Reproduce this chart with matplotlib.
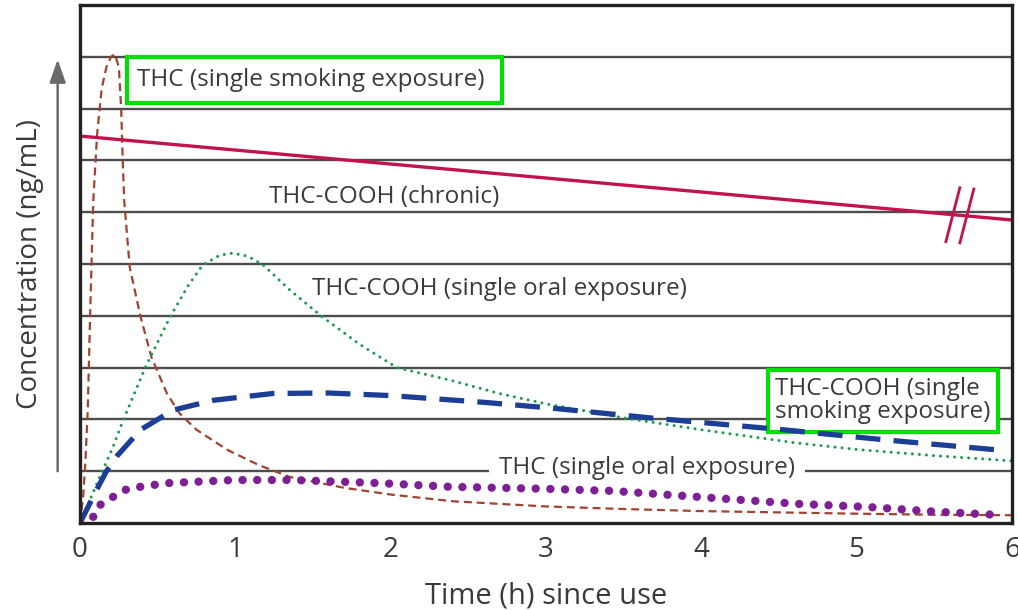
import matplotlib.pyplot as plt
import numpy as np

plt.rcParams['font.family'] = ['Open Sans', 'DejaVu Sans']

# THC (single smoking exposure)
smoke_thc_x = [0, 0.02, 0.035, 0.05, 0.065, 0.085, 0.11, 0.14, 0.17, 0.2, 0.225, 0.25,
               0.265, 0.275, 0.285, 0.32, 0.39, 0.46, 0.56, 0.64, 0.75, 0.95, 1.15, 1.35,
               1.7, 2.0, 2.4, 3.0, 3.5, 4.0, 4.6, 5.0, 5.5, 6.0]
smoke_thc_y = [0, 0.5, 1.2, 2.2, 4.0, 6.2, 7.5, 8.4, 8.8, 9.0, 9.05, 8.8,
               8.0, 7.0, 6.2, 4.94, 3.98, 3.2, 2.5, 2.12, 1.8, 1.41, 1.12, 0.89,
               0.68, 0.55, 0.42, 0.32, 0.27, 0.23, 0.2, 0.18, 0.16, 0.15]

# THC-COOH (single oral exposure)
oral_cooh_x = [0, 0.1, 0.21, 0.28, 0.42, 0.58, 0.7, 0.79, 0.9, 0.985, 1.08, 1.18, 1.35,
               1.56, 1.8, 2.04, 2.38, 2.7, 3.0, 3.5, 4.0, 4.6, 5.0, 5.5, 6.0]
oral_cooh_y = [0, 0.7, 1.45, 2.0, 3.0, 3.98, 4.6, 4.98, 5.17, 5.21, 5.15, 4.98, 4.5,
               3.98, 3.45, 3.0, 2.76, 2.5, 2.3, 2.03, 1.8, 1.55, 1.42, 1.3, 1.2]

# THC-COOH (single smoking exposure)
smoke_cooh_x = [0, 0.05, 0.1, 0.17, 0.24, 0.39, 0.6, 0.86, 1.24, 1.6, 2.0, 2.6, 3.03,
                3.67, 4.53, 5.2, 5.95]
smoke_cooh_y = [0, 0.3, 0.6, 1.0, 1.3, 1.8, 2.18, 2.37, 2.5, 2.51, 2.46, 2.33, 2.22,
                2.03, 1.8, 1.6, 1.4]

# THC (single oral exposure)
oral_thc_x = [0, 0.05, 0.1, 0.13, 0.21, 0.29, 0.39, 0.56, 0.99, 1.37, 1.93, 2.38, 3.0,
              3.43, 4.0, 4.62, 5.07, 5.5, 5.95]
oral_thc_y = [0, 0.05, 0.15, 0.35, 0.5, 0.64, 0.7, 0.77, 0.83, 0.83, 0.77, 0.7, 0.66,
              0.62, 0.5, 0.37, 0.31, 0.22, 0.15]

# THC-COOH (chronic)
chronic_x = [0, 6]
chronic_y = [7.47, 5.85]
break_x = [5.62, 5.71]

x_ticks = [0, 1, 2, 3, 4, 5, 6]
grid_levels = [1, 2, 3, 4, 5, 6, 7, 8, 9]

text_color = '#3a3a3a'

fig = plt.figure(figsize=(10.18, 6.10), dpi=100)
ax = fig.add_axes([0.0786, 0.1426, 0.9154, 0.8492])

for g in grid_levels:
    ax.axhline(g, color='#4d4d4d', lw=1.7, zorder=1)

ax.plot(smoke_thc_x, smoke_thc_y, color='#a0432f', lw=1.6,
        linestyle=(0, (3.6, 2.2)), zorder=3)
ax.plot(oral_cooh_x, oral_cooh_y, color='#1f9a50', lw=2.2,
        linestyle=(0, (0.01, 2.3)), dash_capstyle='round', zorder=3)
ax.plot(smoke_cooh_x, smoke_cooh_y, color='#1c3f95', lw=3.8,
        linestyle=(0, (4.7, 2.5)), zorder=3)
ax.plot(oral_thc_x, oral_thc_y, color='#7f1f96', lw=6,
        linestyle=(0, (0.01, 1.75)), dash_capstyle='round', zorder=3)
ax.plot(chronic_x, chronic_y, color='#c2144c', lw=2.4, zorder=3)

# break marks on the chronic line
slope = (chronic_y[1] - chronic_y[0]) / (chronic_x[1] - chronic_x[0])
for bx in break_x:
    yc = chronic_y[0] + slope * bx
    ax.plot([bx - 0.045, bx + 0.045], [yc - 0.52, yc + 0.52],
            color='#c2144c', lw=2.0, zorder=4)

fs = 17.5
ax.text(0.37, 8.55, 'THC (single smoking exposure) ', fontsize=fs, color=text_color,
        va='center', ha='left', zorder=2,
        bbox=dict(boxstyle='square,pad=0.45', fc='white', ec='#00e000', lw=3))
ax.text(1.96, 6.29, 'THC-COOH (chronic)', fontsize=fs, color=text_color,
        va='center', ha='center', zorder=2)
ax.text(2.7, 4.52, 'THC-COOH (single oral exposure)', fontsize=fs, color=text_color,
        va='center', ha='center', zorder=2)
ax.text(4.475, 2.36, 'THC-COOH (single\nsmoking exposure)', fontsize=fs, color=text_color,
        va='center', ha='left', zorder=2, linespacing=0.95,
        bbox=dict(boxstyle='square,pad=0.3', fc='white', ec='#00e000', lw=3))
ax.text(3.65, 1.06, 'THC (single oral exposure)', fontsize=fs, color=text_color,
        va='center', ha='center', zorder=2,
        bbox=dict(boxstyle='square,pad=0.4', fc='white', ec='none'))

ax.set_xlim(0, 6)
ax.set_ylim(0, 10)
ax.set_xticks(x_ticks)
ax.set_xticklabels([str(t) for t in x_ticks])
ax.set_yticks([])
ax.tick_params(axis='x', length=0, labelsize=20, labelcolor=text_color, pad=9)
for s in ax.spines.values():
    s.set_linewidth(2.4)
    s.set_color('#222222')
    s.set_zorder(5)

ax.set_xlabel('Time (h) since use', fontsize=21, color=text_color, labelpad=13)
ax.set_ylabel('Concentration (ng/mL)', fontsize=20, color=text_color, labelpad=26)

ax.annotate('', xy=(-0.024, 0.895), xytext=(-0.024, 0.10), xycoords='axes fraction',
            textcoords='axes fraction', annotation_clip=False,
            arrowprops=dict(arrowstyle='-|>,head_width=0.35,head_length=1.0',
                            color='#6a6a6a', lw=1.8, mutation_scale=14,
                            shrinkA=0, shrinkB=0))

fig.savefig('out.png', dpi=100, facecolor='white')
